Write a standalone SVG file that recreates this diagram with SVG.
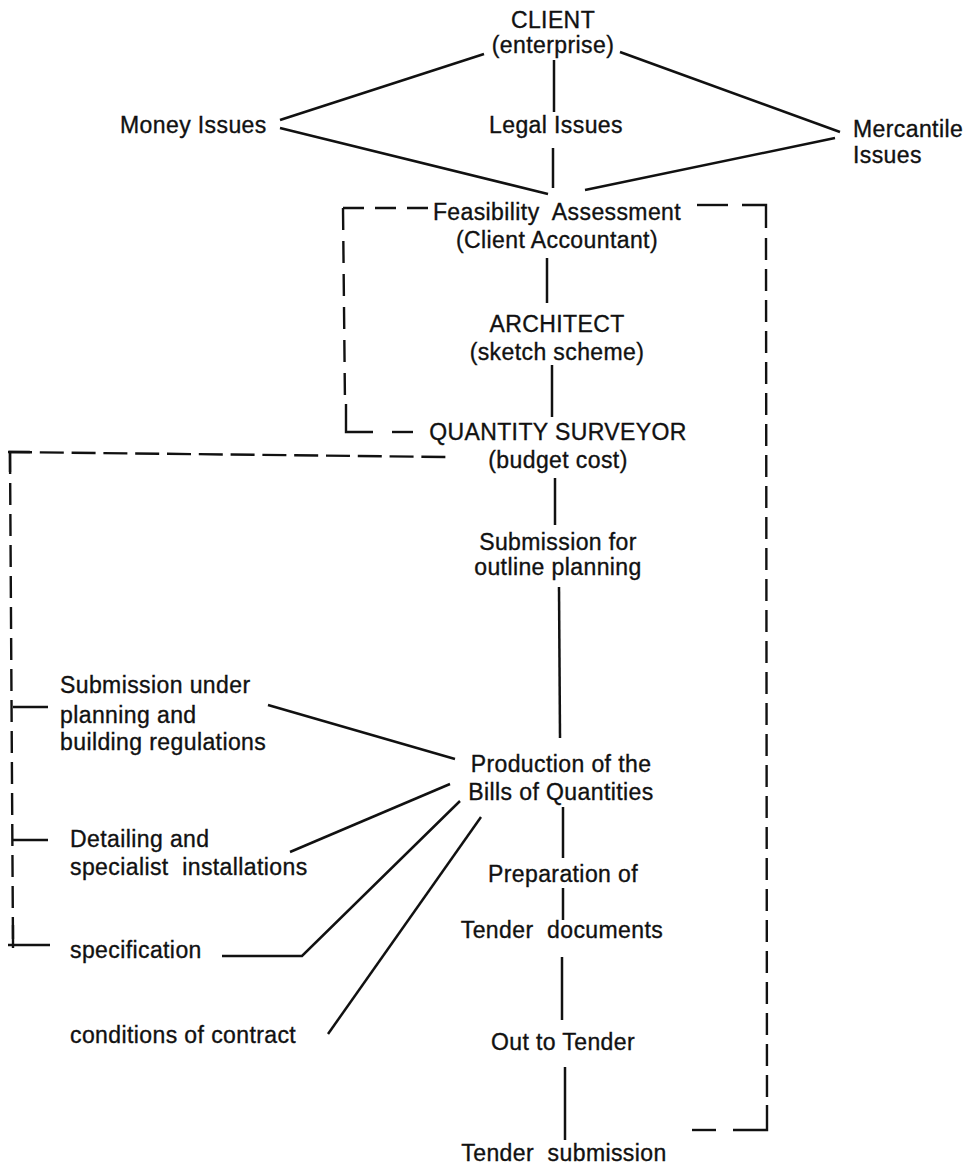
<svg xmlns="http://www.w3.org/2000/svg" width="966" height="1167" viewBox="0 0 966 1167">
  <style>
    text { font-family: "Liberation Sans", Arial, Helvetica, sans-serif; font-size: 23px; letter-spacing: 0.4px; fill: #111; stroke: #111; stroke-width: 0.35px; white-space: pre; }
    .c { text-anchor: middle; }
    .ln { stroke: #111; stroke-width: 2.5; fill: none; stroke-linecap: butt; }
    .dash { stroke: #111; stroke-width: 2.4; fill: none; stroke-dasharray: 22 9; }
    .solid { stroke: #111; stroke-width: 2.4; fill: none; }
  </style>
  <rect width="966" height="1167" fill="#ffffff"/>

  <!-- solid links between stages -->
  <g id="connectors">
    <line class="ln" x1="554" y1="60" x2="554" y2="112"/>
    <line class="ln" x1="553" y1="148" x2="553" y2="188"/>
    <line class="ln" x1="280" y1="120" x2="484" y2="54"/>
    <line class="ln" x1="280" y1="128" x2="548" y2="194"/>
    <line class="ln" x1="840" y1="132" x2="620" y2="52"/>
    <line class="ln" x1="835" y1="138" x2="585" y2="190"/>
    <line class="ln" x1="547" y1="258" x2="547" y2="303"/>
    <line class="ln" x1="552" y1="365" x2="552" y2="417"/>
    <line class="ln" x1="555" y1="478" x2="555" y2="525"/>
    <line class="ln" x1="559" y1="587" x2="560" y2="738"/>
    <line class="ln" x1="563" y1="807" x2="563" y2="858"/>
    <line class="ln" x1="563" y1="888" x2="563" y2="920"/>
    <line class="ln" x1="562" y1="957" x2="562" y2="1020"/>
    <line class="ln" x1="565" y1="1067" x2="565" y2="1140"/>
    <line class="ln" x1="268" y1="705" x2="455" y2="759"/>
    <line class="ln" x1="290" y1="852" x2="450" y2="784"/>
    <polyline class="ln" points="222,956 302,956 460,801"/>
    <line class="ln" x1="328" y1="1034" x2="481" y2="817"/>

    <!-- inner feedback bracket: Feasibility to Quantity Surveyor -->
    <line class="dash" x1="343" y1="208" x2="430" y2="208" style="stroke-dasharray:21 11"/>
    <line class="dash" x1="343" y1="208" x2="345" y2="405" style="stroke-dasharray:22 11"/>
    <path class="solid" d="M346,404 V432 H373"/>
    <line class="solid" x1="392" y1="432" x2="413" y2="432"/>

    <!-- right feedback bracket: Feasibility to Tender submission -->
    <line class="solid" x1="697" y1="205" x2="728" y2="205"/>
    <path class="solid" d="M742,205 H766 V228"/>
    <line class="dash" x1="766" y1="238" x2="767" y2="1105"/>
    <path class="solid" d="M767,1105 V1130 H733"/>
    <line class="solid" x1="716" y1="1130" x2="692" y2="1130"/>

    <!-- left feedback bracket: Quantity Surveyor to design inputs -->
    <line class="dash" x1="8" y1="452" x2="447" y2="457" style="stroke-dasharray:24 7.8"/>
    <line class="dash" x1="10" y1="452" x2="13" y2="945"/>
    <path class="solid" d="M10,472 V452 H30"/>
    <line class="solid" x1="13" y1="707" x2="48" y2="707"/>
    <line class="solid" x1="13" y1="840" x2="48" y2="840"/>
    <line class="solid" x1="8" y1="945" x2="50" y2="945"/>
    <line class="solid" x1="13" y1="925" x2="13" y2="948"/>
  </g>

  <g id="client"><text class="c" x="553" y="28">CLIENT</text><text class="c" x="553" y="53">(enterprise)</text></g>
  <g id="money"><text x="120" y="133">Money Issues</text></g>
  <g id="legal"><text class="c" x="556" y="133">Legal Issues</text></g>
  <g id="mercantile"><text x="853" y="137">Mercantile</text><text x="853" y="163">Issues</text></g>
  <g id="feasibility"><text class="c" x="557" y="220">Feasibility  Assessment</text><text class="c" x="557" y="248">(Client Accountant)</text></g>
  <g id="architect"><text class="c" x="557" y="332">ARCHITECT</text><text class="c" x="557" y="360">(sketch scheme)</text></g>
  <g id="quantity-surveyor"><text class="c" x="558" y="440">QUANTITY SURVEYOR</text><text class="c" x="558" y="468">(budget cost)</text></g>
  <g id="outline-planning"><text class="c" x="558" y="550">Submission for</text><text class="c" x="558" y="575">outline planning</text></g>
  <g id="building-regs"><text x="60" y="693">Submission under</text><text x="60" y="723">planning and</text><text x="60" y="750">building regulations</text></g>
  <g id="bills"><text class="c" x="561" y="772">Production of the</text><text class="c" x="561" y="800">Bills of Quantities</text></g>
  <g id="detailing"><text x="70" y="847">Detailing and</text><text x="70" y="875">specialist  installations</text></g>
  <g id="specification"><text x="70" y="958">specification</text></g>
  <g id="conditions"><text x="70" y="1043">conditions of contract</text></g>
  <g id="preparation"><text class="c" x="563" y="882">Preparation of</text></g>
  <g id="tender-docs"><text class="c" x="562" y="938">Tender  documents</text></g>
  <g id="out-to-tender"><text class="c" x="563" y="1050">Out to Tender</text></g>
  <g id="tender-submission"><text class="c" x="564" y="1161">Tender  submission</text></g>
</svg>
